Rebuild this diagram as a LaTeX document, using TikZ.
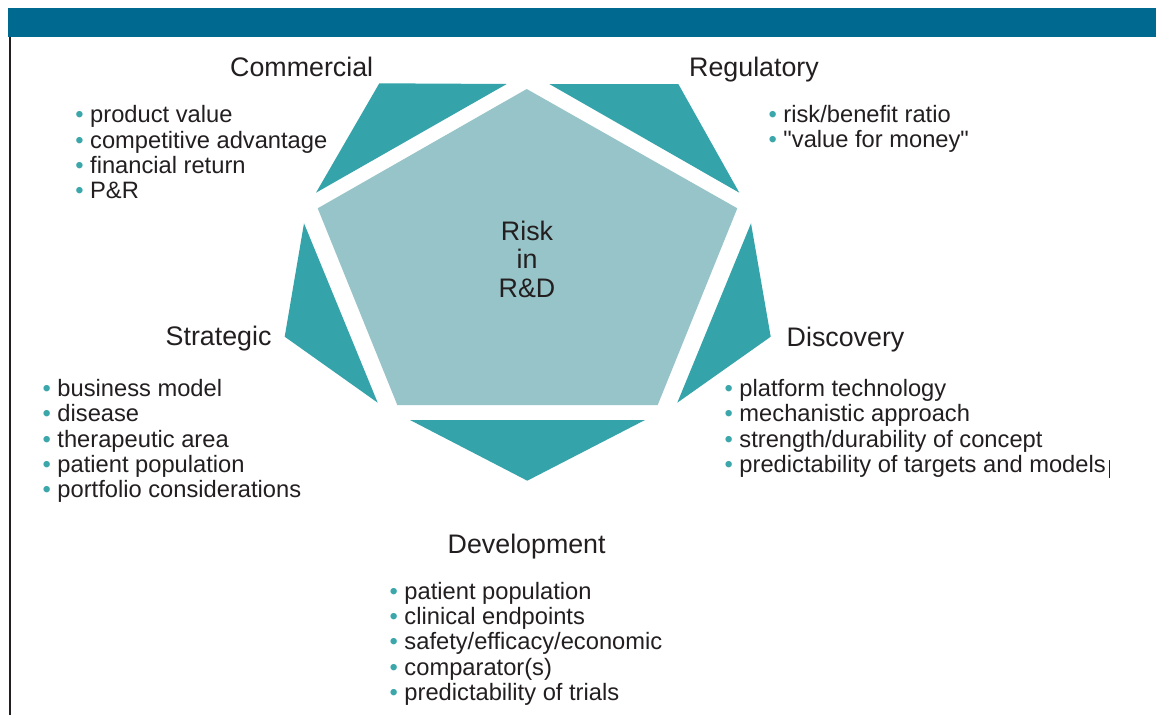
\documentclass[tikz,border=0pt]{standalone}
\usepackage{fontspec}
\setmainfont{Liberation Sans}
\definecolor{barblue}{HTML}{00698F}
\definecolor{tealdark}{HTML}{34A4AA}
\definecolor{teallight}{HTML}{97C4C8}
\definecolor{ink}{HTML}{231F20}
\definecolor{bul}{HTML}{3BA7AB}
\newcommand\bitem[1]{\textcolor{bul}{\textbullet} #1}
\begin{document}
\begin{tikzpicture}[x=1pt,y=-1pt,
  head/.style={anchor=base west, inner sep=0pt, font=\fontsize{26.8}{30}\selectfont, text=ink},
  item/.style={anchor=base west, inner sep=0pt, font=\fontsize{23.7}{25.3}\selectfont, text=ink},
  piece/.style={fill=tealdark},
  core/.style={fill=teallight}]
\useasboundingbox (0,0) rectangle (1156,715);
\fill[white] (0,0) rectangle (1156,715);
% frame
\fill[barblue] (8,8) rectangle (1156,37);
\draw[ink, line width=2] (9.5,37) -- (9.5,715);
% central pentagon
\fill[core] (526.7,89) -- (737.3,208.3) -- (657.7,405) -- (397.3,405) -- (317.7,208.3) -- cycle;
% outer pieces
\fill[piece] (379.3,83.3) -- (506.7,84) -- (316,192.7) -- cycle;
\fill[piece] (549.3,84) -- (678.3,84) -- (739.3,192.7) -- cycle;
\fill[piece] (751,223.3) -- (770.7,336.7) -- (677.3,402.7) -- cycle;
\fill[piece] (304,223.3) -- (284.7,336.7) -- (377.7,402.7) -- cycle;
\fill[piece] (410,420) -- (645,420) -- (527.3,480.7) -- cycle;
% centre text
\node[font=\fontsize{26.8}{28.8}\selectfont, align=center, anchor=base, inner sep=0pt, text=ink] (risk) at (527,297.7) {Risk\\in\\R\&D};
% headings
\node[head] (commercial) at (230,76) {Commercial};
\node[head] (regulatory) at (689,76) {Regulatory};
\node[head] (strategic) at (165.5,345.7) {Strategic};
\node[head] (discovery) at (786.5,346.7) {Discovery};
\node[head] (development) at (447.5,553.3) {Development};
% lists
\foreach \t [count=\i] in {product value, competitive advantage, financial return, P\&R}
  \node[item] (com\i) at (75.1,{122.7+(\i-1)*25.3}) {\bitem{\t}};
\foreach \t [count=\i] in {risk/benefit ratio, \textquotedbl value for money\textquotedbl}
  \node[item] (reg\i) at (768.4,{122+(\i-1)*25.3}) {\bitem{\t}};
\foreach \t [count=\i] in {business model, disease, therapeutic area, patient population, portfolio considerations}
  \node[item] (str\i) at (42.4,{396.5+(\i-1)*25.3}) {\bitem{\t}};
\foreach \t [count=\i] in {platform technology, mechanistic approach, strength/durability of concept, predictability of targets and models}
  \node[item] (dis\i) at (724.4,{396.5+(\i-1)*25.3}) {\bitem{\t}};
\foreach \t [count=\i] in {patient population, clinical endpoints, safety/efficacy/economic, comparator(s), predictability of trials}
  \node[item] (dev\i) at (389.4,{599.3+(\i-1)*25.3}) {\bitem{\t}};
% text cursor
\draw[ink, line width=1] (1109,460) -- (1109,478);
\end{tikzpicture}
\end{document}
